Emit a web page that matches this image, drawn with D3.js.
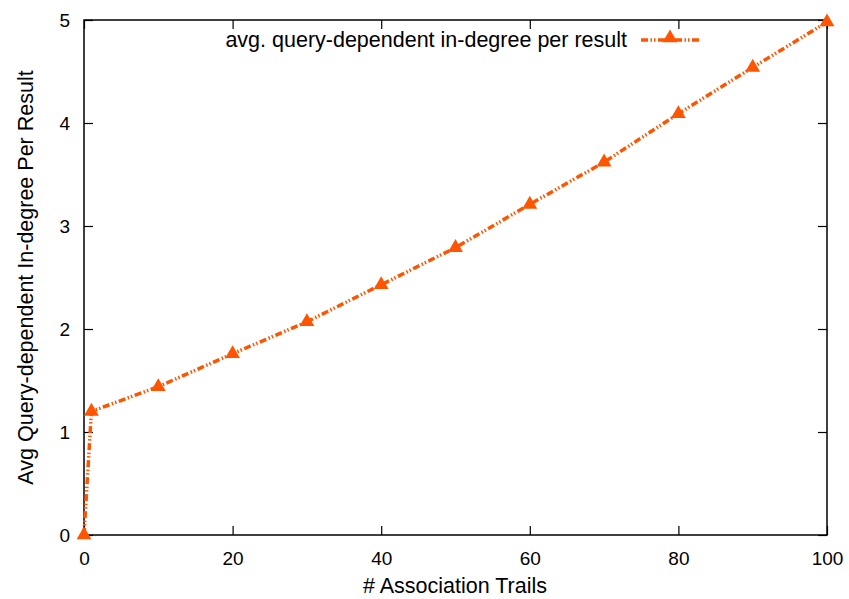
<!DOCTYPE html>
<html><head><meta charset="utf-8">
<script src="https://cdn.jsdelivr.net/npm/d3@7"></script>
<style>body{margin:0;background:#fff}svg{display:block}text{font-family:"Liberation Sans",Arial,sans-serif;fill:#000}</style>
</head><body><svg id="c" width="849" height="599"></svg>
<script>
const trails = [0, 1, 10, 20, 30, 40, 50, 60, 70, 80, 90, 100];
const indegree = [0, 1.2, 1.44, 1.76, 2.07, 2.43, 2.79, 3.21, 3.62, 4.09, 4.54, 4.98];
const xTicks = [0, 20, 40, 60, 80, 100];
const yTicks = [0, 1, 2, 3, 4, 5];
const seriesName = "avg. query-dependent in-degree per result";
const xTitle = "# Association Trails";
const yTitle = "Avg Query-dependent In-degree Per Result";

(function () {
const svg = d3.select("#c");
const L = 84, R = 827, T = 20, B = 535;
const x = d3.scaleLinear().domain([0, 100]).range([L, R]);
const y = d3.scaleLinear().domain([0, 5]).range([B, T]);
const color = "#ff5500";
const dash = "7,2.5,1.5,2,1.5,2.5";
const tickFont = 19, titleFont = 21.5;

svg.append("rect").attr("x", L).attr("y", T).attr("width", R - L).attr("height", B - T)
  .attr("fill", "none").attr("stroke", "#000").attr("stroke-width", 1.5);

const tl = 9;
const gB = svg.append("g").attr("transform", `translate(0,${B})`)
  .call(d3.axisBottom(x).tickValues(xTicks).tickFormat(d3.format("d")).tickSizeInner(-tl).tickSizeOuter(0).tickPadding(16.5));
const gT = svg.append("g").attr("transform", `translate(0,${T})`)
  .call(d3.axisTop(x).tickValues(xTicks).tickSizeInner(-tl).tickSizeOuter(0).tickFormat(""));
const gL = svg.append("g").attr("transform", `translate(${L},0)`)
  .call(d3.axisLeft(y).tickValues(yTicks).tickFormat(d3.format("d")).tickSizeInner(-tl).tickSizeOuter(0).tickPadding(14));
const gR = svg.append("g").attr("transform", `translate(${R},0)`)
  .call(d3.axisRight(y).tickValues(yTicks).tickSizeInner(-tl).tickSizeOuter(0).tickFormat(""));
[gB, gT, gL, gR].forEach(g => {
  g.select(".domain").remove();
  g.selectAll("line").attr("stroke", "#000").attr("stroke-width", 1.2);
  g.selectAll("text").attr("font-size", tickFont).attr("font-family", "Liberation Sans, Arial, sans-serif").attr("fill", "#000");
});

svg.append("text").attr("x", (L + R) / 2 - 0.5).attr("y", 593).attr("text-anchor", "middle")
  .attr("font-size", titleFont).text(xTitle);
svg.append("text").attr("transform", `translate(33,${(T + B) / 2}) rotate(-90)`)
  .attr("text-anchor", "middle").attr("font-size", titleFont).text(yTitle);

const data = trails.map((t, i) => [t, indegree[i]]);
svg.append("path").datum(data)
  .attr("d", d3.line().x(d => x(d[0])).y(d => y(d[1])))
  .attr("fill", "none").attr("stroke", color).attr("stroke-width", 3.5)
  .attr("stroke-dasharray", dash);
const tri = d3.symbol().type(d3.symbolTriangle).size(95);
svg.append("g").selectAll("path").data(data).join("path")
  .attr("d", tri).attr("transform", d => `translate(${x(d[0])},${y(d[1])})`)
  .attr("fill", color);

svg.append("text").attr("x", 627).attr("y", 47).attr("text-anchor", "end")
  .attr("font-size", titleFont).text(seriesName);
svg.append("line").attr("x1", 641).attr("x2", 700).attr("y1", 40).attr("y2", 40)
  .attr("stroke", color).attr("stroke-width", 3.5).attr("stroke-dasharray", dash);
svg.append("path").attr("d", tri).attr("transform", "translate(670,38)").attr("fill", color);
})();
</script></body></html>
